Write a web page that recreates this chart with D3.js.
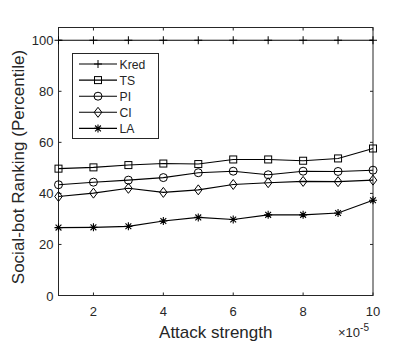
<!DOCTYPE html>
<html>
<head>
<meta charset="utf-8">
<script src="https://cdn.jsdelivr.net/npm/d3@7"></script>
<style>
  body { margin: 0; background: #fff; }
  text { font-family: "Liberation Sans", Arial, sans-serif; fill: #262626; }
</style>
</head>
<body>
<svg id="chart" width="415" height="346"></svg>
<script>
// data
const strengths = [1, 2, 3, 4, 5, 6, 7, 8, 9, 10]
const kred = [100, 100, 100, 100, 100, 100, 100, 100, 100, 100]
const ts = [49.7, 50.2, 51.1, 51.7, 51.5, 53.3, 53.3, 52.8, 53.7, 57.6]
const pi = [43.4, 44.4, 45.2, 46.2, 48.1, 48.7, 47.3, 48.7, 48.6, 49.1]
const ci = [38.8, 40.1, 42.0, 40.4, 41.4, 43.5, 44.2, 44.7, 44.6, 45.2]
const la = [26.6, 26.7, 27.1, 29.2, 30.6, 29.8, 31.6, 31.6, 32.3, 37.3]
const xTicks = [2, 4, 6, 8, 10]
const yTicks = [0, 20, 40, 60, 80, 100]

const series = [
  { name: 'Kred', values: kred, marker: 'plus' },
  { name: 'TS', values: ts, marker: 'square' },
  { name: 'PI', values: pi, marker: 'circle' },
  { name: 'CI', values: ci, marker: 'diamond' },
  { name: 'LA', values: la, marker: 'star' }
]

const margin = { left: 58.5, right: 42, top: 27.5, bottom: 50.5 }
const W = 415, H = 346
const svg = d3.select('#chart')
const x = d3.scaleLinear().domain([1, 10]).range([margin.left, W - margin.right])
const y = d3.scaleLinear().domain([0, 105]).range([H - margin.bottom, margin.top])

const axisColor = '#262626'

// draw a marker of given type at (cx, cy)
function drawMarker(g, type, cx, cy) {
  const s = 4
  if (type === 'plus') {
    g.append('path').attr('d', `M${cx - s},${cy}H${cx + s}M${cx},${cy - s}V${cy + s}`)
      .attr('stroke', '#000').attr('stroke-width', 1)
  } else if (type === 'square') {
    g.append('rect').attr('x', cx - 3.5).attr('y', cy - 3.5).attr('width', 7).attr('height', 7)
      .attr('fill', 'none').attr('stroke', '#000').attr('stroke-width', 1)
  } else if (type === 'circle') {
    g.append('circle').attr('cx', cx).attr('cy', cy).attr('r', 4)
      .attr('fill', 'none').attr('stroke', '#000').attr('stroke-width', 1)
  } else if (type === 'diamond') {
    g.append('path').attr('d', `M${cx},${cy - 5}L${cx + 3.8},${cy}L${cx},${cy + 5}L${cx - 3.8},${cy}Z`)
      .attr('fill', 'none').attr('stroke', '#000').attr('stroke-width', 1)
  } else if (type === 'star') {
    const d = 4, e = 2.9
    g.append('path').attr('d',
      `M${cx - d},${cy}H${cx + d}M${cx},${cy - d}V${cy + d}` +
      `M${cx - e},${cy - e}L${cx + e},${cy + e}M${cx - e},${cy + e}L${cx + e},${cy - e}`)
      .attr('stroke', '#000').attr('stroke-width', 1.1)
  }
}

// axes box
const x0 = x(1), x1 = x(10), y0 = y(0), y1 = y(105)
svg.append('rect').attr('x', x0).attr('y', y1).attr('width', x1 - x0).attr('height', y0 - y1)
  .attr('fill', 'none').attr('stroke', axisColor).attr('stroke-width', 1)

// ticks on both sides (MATLAB style, inward)
const tl = 3
xTicks.forEach(t => {
  svg.append('line').attr('x1', x(t)).attr('x2', x(t)).attr('y1', y0).attr('y2', y0 - tl).attr('stroke', axisColor)
  svg.append('line').attr('x1', x(t)).attr('x2', x(t)).attr('y1', y1).attr('y2', y1 + tl).attr('stroke', axisColor)
  svg.append('text').attr('x', x(t)).attr('y', y0 + 20).attr('text-anchor', 'middle')
    .attr('font-size', 13).text(t)
})
yTicks.forEach(t => {
  svg.append('line').attr('x1', x0).attr('x2', x0 + tl).attr('y1', y(t)).attr('y2', y(t)).attr('stroke', axisColor)
  svg.append('line').attr('x1', x1).attr('x2', x1 - tl).attr('y1', y(t)).attr('y2', y(t)).attr('stroke', axisColor)
  svg.append('text').attr('x', x0 - 5).attr('y', y(t) + 5).attr('text-anchor', 'end')
    .attr('font-size', 13).text(t)
})

// axis labels
svg.append('text').attr('x', (x0 + x1) / 2).attr('y', 338).attr('text-anchor', 'middle')
  .attr('font-size', 17).text('Attack strength')
svg.append('text').attr('transform', `translate(24,167) rotate(-90)`)
  .attr('text-anchor', 'middle').attr('font-size', 17).text('Social-bot Ranking (Percentile)')

// exponent
const ex = svg.append('text').attr('x', 338).attr('y', 337).attr('font-size', 13)
ex.append('tspan').text('×10')
ex.append('tspan').attr('dy', -6).attr('font-size', 10).text('-5')

// series
const line = d3.line().x((d, i) => x(strengths[i])).y(d => y(d))
series.forEach(s => {
  svg.append('path').datum(s.values).attr('d', line)
    .attr('fill', 'none').attr('stroke', '#000').attr('stroke-width', 1.1)
  const g = svg.append('g')
  s.values.forEach((v, i) => drawMarker(g, s.marker, x(strengths[i]), y(v)))
})

// legend
const lg = svg.append('g')
lg.append('rect').attr('x', 72.5).attr('y', 53.5).attr('width', 86).attr('height', 85)
  .attr('fill', '#fff').attr('stroke', axisColor).attr('stroke-width', 1)
series.forEach((s, i) => {
  const ly = 64 + i * 16.1
  lg.append('line').attr('x1', 79).attr('x2', 117).attr('y1', ly).attr('y2', ly)
    .attr('stroke', '#000').attr('stroke-width', 1.1)
  drawMarker(lg, s.marker, 98, ly)
  lg.append('text').attr('x', 119.5).attr('y', ly + 4.5).attr('font-size', 12.2)
    .attr('fill', '#000').text(s.name)
})
</script>
</body>
</html>
